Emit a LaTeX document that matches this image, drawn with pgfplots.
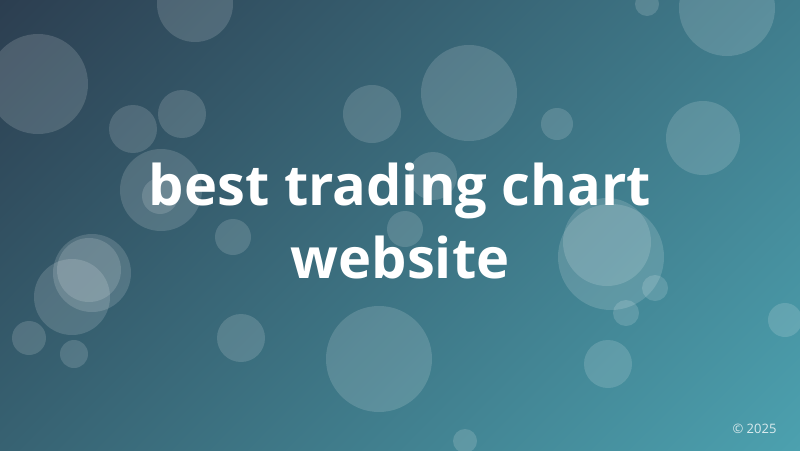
\documentclass[border=0pt]{standalone}
\usepackage{pgfplots}
\pgfplotsset{compat=1.18}
\usepackage{fontspec}
\setmainfont{Open Sans}
\usetikzlibrary{shadings}

\definecolor{bgtl}{HTML}{2C3E50}
\definecolor{bgtr}{HTML}{407D8D}
\definecolor{bgbl}{HTML}{376272}
\definecolor{bgbr}{HTML}{4CA1AF}

\begin{document}
\begin{tikzpicture}
  \begin{axis}[
      scale only axis,
      width=800pt, height=450pt,
      xmin=0, xmax=800, ymin=0, ymax=450,
      y dir=reverse,
      axis line style={draw=none},
      ticks=none,
      axis background/.style={upper left=bgtl, upper right=bgtr,
                              lower left=bgbl, lower right=bgbr},
    ]
    % bubbles: x, y (from top), radius
    \addplot[scatter, only marks, mark=*,
      scatter/use mapped color={draw=white, draw opacity=0, line width=0pt,
                                fill=white, fill opacity=0.15},
      visualization depends on={\thisrow{r}\as\rad},
      scatter/@pre marker code/.append style={/tikz/mark size=\rad}]
      table {
        x   y   r
        195 4   38
        38  84  50
        133 129 24
        182 114 24
        372 114 29
        469 93  48
        557 124 16
        647 4   12
        727 8   48
        703 138 37
        161 190 41
        160 196 18
        233 237 18
        433 176 24
        405 229 18
        92  273 39
        89  270 32
        72  297 38
        29  338 17
        74  354 14
        241 338 24
        379 359 53
        611 257 53
        607 242 44
        655 288 13
        626 313 13
        785 320 17
        608 364 24
        465 441 12
      };
    \node[anchor=base, text=white, font=\fontsize{56}{60}\selectfont\bfseries]
      at (axis cs:400,205) {best trading chart};
    \node[anchor=base, text=white, font=\fontsize{56}{60}\selectfont\bfseries]
      at (axis cs:400,278) {website};
    \node[anchor=base east, text=white, text opacity=0.8, font=\fontsize{13}{15}\selectfont]
      at (axis cs:780,433) {© 2025};
    \coordinate (SW) at (rel axis cs:0,0);
    \coordinate (NE) at (rel axis cs:1,1);
  \end{axis}
  \pgfresetboundingbox
  \path[use as bounding box] (SW) rectangle (NE);
\end{tikzpicture}
\end{document}
